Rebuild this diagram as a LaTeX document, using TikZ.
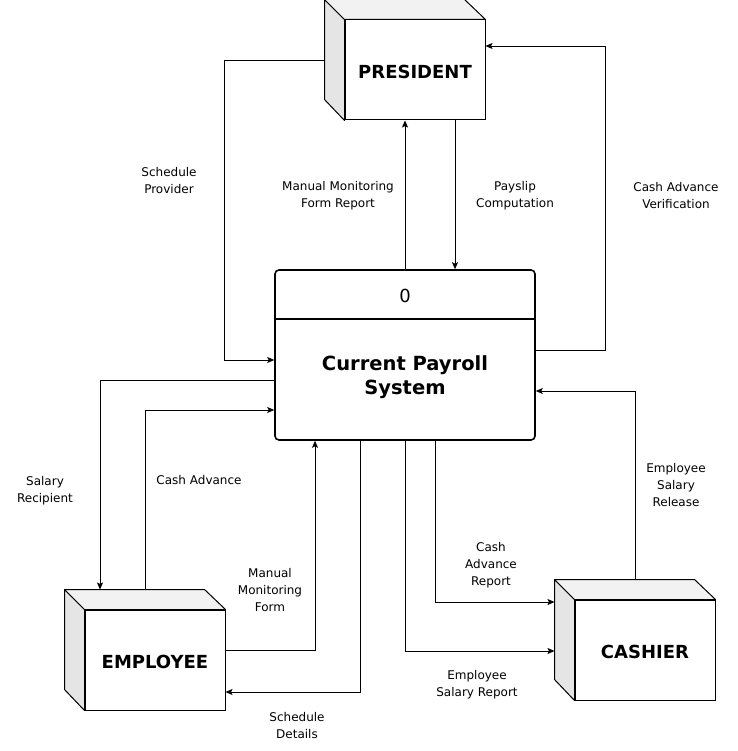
\documentclass[tikz,border=0pt]{standalone}
\usepackage{fontspec}
\setmainfont{DejaVu Sans}
\usetikzlibrary{arrows.meta}
\begin{document}
\begin{tikzpicture}[x=1pt,y=-1pt,
  front/.style={draw=black,line width=1pt,fill=white,minimum width=140pt,minimum height=100pt,inner sep=0pt,font=\fontsize{18}{22}\selectfont\bfseries},
  leftface/.style={draw=black,line width=1pt,fill=black!10,line join=round},
  topface/.style={draw=black,line width=1pt,fill=black!5,line join=round},
  procbox/.style={draw=black,line width=1.6pt,rounded corners=4pt,fill=white,minimum width=260pt,minimum height=170pt,inner sep=0pt},
  flow/.style={draw=black,line width=0.8pt,-{Stealth[length=7pt,width=6pt,inset=1.5pt]}},
  lbl/.style={align=center,font=\fontsize{12}{17}\selectfont,inner sep=0pt}
]
\useasboundingbox (0,0) rectangle (737,751);

% President cube
\node[front] (pres) at (415,70) {};
\node[font=\fontsize{18}{22}\selectfont\bfseries] (prest) at (415,72) {PRESIDENT};
\path[leftface] (pres.north west) -- ++(-20,-20) -- ++(0,100) -- (pres.south west) -- cycle;
\path[topface] (pres.north west) -- ++(-20,-20) -- ++(140,0) -- (pres.north east) -- cycle;

% Employee cube
\node[front] (emp) at (155,660) {};
\node[font=\fontsize{18}{22}\selectfont\bfseries] (empt) at (155,662) {EMPLOYEE};
\path[leftface] (emp.north west) -- ++(-20,-20) -- ++(0,100) -- (emp.south west) -- cycle;
\path[topface] (emp.north west) -- ++(-20,-20) -- ++(140,0) -- (emp.north east) -- cycle;

% Cashier cube
\node[front] (cash) at (645,650) {};
\node[font=\fontsize{18}{22}\selectfont\bfseries] (casht) at (645,652) {CASHIER};
\path[leftface] (cash.north west) -- ++(-20,-20) -- ++(0,100) -- (cash.south west) -- cycle;
\path[topface] (cash.north west) -- ++(-20,-20) -- ++(140,0) -- (cash.north east) -- cycle;

% Process
\node[procbox] (proc) at (405,355) {};
\draw[line width=1.6pt] ([yshift=-50pt]proc.north west) -- ([yshift=-50pt]proc.north east);
\node[font=\fontsize{18}{22}\selectfont] (pnum) at (405,296) {0};
\node[align=center,font=\fontsize{19.5}{24}\selectfont\bfseries] (pname) at (405,377) {Current Payroll\\ System};

% Connectors
\draw[flow] ([xshift=-20pt,yshift=10pt]pres.west) -- ++(-100,0) |- ([yshift=-5pt]proc.west);
\draw[flow] (proc.north) -- (proc.north |- pres.south);
\draw[flow] ([xshift=40pt]pres.south) -- ([xshift=50pt]proc.north);
\draw[flow] ([yshift=5pt]proc.east) -- ++(70,0) |- ([yshift=24pt]pres.east);
\draw[flow] ([yshift=-25pt]proc.west) -| ([xshift=-55pt,yshift=20pt]emp.north);
\draw[flow] ([xshift=-10pt,yshift=20pt]emp.north) |- ([yshift=-55pt]proc.west);
\draw[flow] ([yshift=10pt]emp.east) -| ([xshift=-90pt]proc.south);
\draw[flow] ([xshift=-45pt]proc.south) |- ([yshift=-32pt]emp.east);
\draw[flow] ([xshift=30pt]proc.south) |- ([xshift=-20pt,yshift=48pt]cash.west);
\draw[flow] (proc.south) |- ([xshift=-20pt,yshift=-1pt]cash.west);
\draw[flow] ([xshift=-10pt,yshift=20pt]cash.north) |- ([yshift=-36pt]proc.east);

% Labels
\node[lbl] (l1) at (169,181) {Schedule\\Provider};
\node[lbl] (l2) at (338,196) {Manual Monitoring\\Form Report};
\node[lbl] (l3) at (515,196) {Payslip\\Computation};
\node[lbl] (l4) at (676,196) {Cash Advance\\Verification};
\node[lbl] (l5) at (45,491) {Salary\\Recipient};
\node[lbl] (l6) at (199,480) {Cash Advance};
\node[lbl] (l7) at (270,590) {Manual\\Monitoring\\Form};
\node[lbl] (l8) at (297,726) {Schedule\\Details};
\node[lbl] (l9) at (491,565) {Cash\\Advance\\Report};
\node[lbl] (l10) at (477,685) {Employee\\Salary Report};
\node[lbl] (l11) at (676,485) {Employee\\Salary\\Release};
\end{tikzpicture}
\end{document}
